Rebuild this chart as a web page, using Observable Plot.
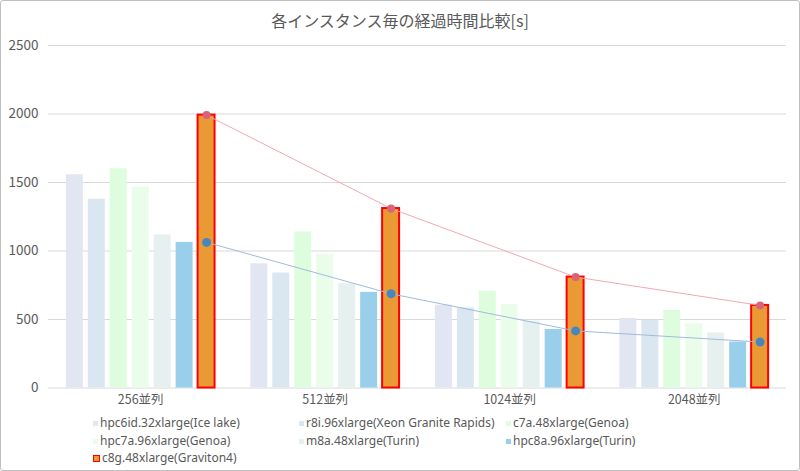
<!DOCTYPE html>
<html><head><meta charset="utf-8">
<script src="https://cdn.jsdelivr.net/npm/d3@7"></script>
<script src="https://cdn.jsdelivr.net/npm/@observablehq/plot@0.6"></script>
<style>
body{margin:0;background:#fff;}
#chart{position:relative;width:800px;height:471px;box-sizing:border-box;border:1px solid #BFBFBF;border-radius:3px;font-family:"Noto Sans CJK JP","Noto Sans",sans-serif;color:#595959;overflow:hidden;background:#fff}
#title{position:absolute;left:-1px;top:8px;width:800px;text-align:center;font-size:16px;line-height:22px;}
#plot{position:absolute;left:-1px;top:25px;}
#plot svg{overflow:visible}
.item{position:absolute;font-family:"Noto Sans",sans-serif;font-size:12px;line-height:14px;white-space:nowrap;display:flex;align-items:center;}
.sw{display:inline-block;width:5px;height:5px;margin-right:2px;box-sizing:border-box;}
</style></head>
<body>
<div id="chart"><div id="title">各インスタンス毎の経過時間比較[s]</div><div id="plot"></div><div id="legend"></div></div>
<script>
const categories = ["256並列", "512並列", "1024並列", "2048並列"];
const series = ["hpc6id.32xlarge(Ice lake)", "r8i.96xlarge(Xeon Granite Rapids)", "c7a.48xlarge(Genoa)", "hpc7a.96xlarge(Genoa)", "m8a.48xlarge(Turin)", "hpc8a.96xlarge(Turin)", "c8g.48xlarge(Graviton4)"];
const hpc6id = [1556, 907, 605, 507];
const r8i = [1378, 839, 585, 493];
const c7a = [1600, 1139, 707, 566];
const hpc7a = [1466, 976, 610, 468];
const m8a = [1117, 761, 488, 402];
const hpc8a = [1063, 698, 427, 336];
const c8g = [1992, 1310, 810, 603];
const lineRed = [1992, 1310, 810, 603];
const lineBlue = [1063, 688, 417, 336];
const yTicks = [0, 500, 1000, 1500, 2000, 2500];
const colors = ["#E2E5F2", "#DAE6F0", "#DEFDDE", "#EAFDEA", "#E6F0EE", "#99CFEA", "#E99A35"];

const values = [hpc6id, r8i, c7a, hpc7a, m8a, hpc8a, c8g];
const data = [];
values.forEach((arr, j) => arr.forEach((v, i) => data.push({cat: i, s: j, value: v})));
const barStep = 0.119, barWidth = 0.092, half = (series.length - 1) / 2;
const xc = d => d.cat + (d.s - half) * barStep;
const lastX = i => i + half * barStep;
const redData = lineRed.map((v, i) => ({x: lastX(i), y: v}));
const blueData = lineBlue.map((v, i) => ({x: lastX(i), y: v}));

const chart = Plot.plot({
  width: 800, height: 385, marginTop: 19, marginBottom: 23, marginLeft: 48, marginRight: 13,
  style: {fontFamily: '"Noto Sans CJK JP","Noto Sans",sans-serif', fontSize: "13.5px", color: "#595959", background: "transparent", overflow: "visible"},
  x: {domain: [-0.5, 3.5], ticks: categories.map((d, i) => i), tickFormat: i => categories[i], tickSize: 0, tickPadding: 7, label: null},
  y: {domain: [0, 2500], ticks: yTicks, tickFormat: d => String(d), tickSize: 0, tickPadding: 10, label: null},
  marks: [
    Plot.ruleY(yTicks, {stroke: "#D9D9D9", strokeWidth: 1}),
    Plot.rect(data, {
      x1: d => xc(d) - barWidth / 2, x2: d => xc(d) + barWidth / 2, y1: 0, y2: "value",
      fill: d => colors[d.s],
      stroke: d => d.s === 6 ? "#FF0000" : "none", strokeWidth: 2
    }),
    Plot.line(redData, {x: "x", y: "y", stroke: "#F2A7B2", strokeWidth: 1}),
    Plot.line(blueData, {x: "x", y: "y", stroke: "#9EBCDA", strokeWidth: 1}),
    Plot.dot(redData, {x: "x", y: "y", r: 4, fill: "#D96477"}),
    Plot.dot(blueData, {x: "x", y: "y", r: 4.5, fill: "#4A86BE"})
  ]
});
chart.querySelectorAll('g[aria-label="x-axis tick label"] text, g[aria-label="x-axis"] text').forEach(t => t.style.fontSize = "12.5px");
document.getElementById("plot").appendChild(chart);

const legend = document.getElementById("legend");
const colX = [93, 299, 506];
const rowY = [416, 434, 451];
series.forEach((name, j) => {
  const it = document.createElement("div");
  it.className = "item";
  it.style.left = (colX[j % 3] - 1) + "px";
  it.style.top = (rowY[Math.floor(j / 3)] - 1) + "px";
  const sw = document.createElement("span");
  sw.className = "sw";
  sw.style.background = colors[j];
  if (j === 6) { sw.style.width = "7px"; sw.style.height = "7px"; sw.style.border = "1.5px solid #FF0000"; }
  it.appendChild(sw);
  it.appendChild(document.createTextNode(name));
  legend.appendChild(it);
});
</script>
</body></html>
